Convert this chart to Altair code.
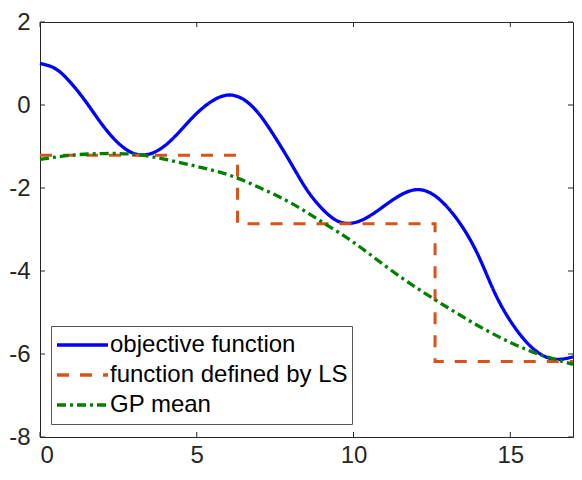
import altair as alt
import pandas as pd

# ---- data ----
series_names = ["objective function", "function defined by LS", "GP mean"]
series_colors = ["#0000FF", "#D95319", "#008000"]
series_dashes = [[1, 0], [12, 11], [9, 4, 3, 4]]

obj_x = [0, 0.5, 1.0, 1.5, 2.0, 2.5, 3.0, 3.5, 4.0, 4.5, 5.0, 5.5, 6.0,
         6.5, 7.0, 7.5, 8.0, 8.5, 9.0, 9.5, 10.0, 10.5, 11.0, 11.5, 12.0,
         12.5, 13.0, 13.5, 14.0, 14.5, 15.0, 15.5, 16.0, 16.5, 17.0]
obj_y = [1.0, 0.87, 0.52, 0.04, -0.49, -0.92, -1.17, -1.18, -0.97, -0.6, -0.2,
         0.1, 0.24, 0.13, -0.23, -0.78, -1.4, -2.03, -2.5, -2.8, -2.84,
         -2.68, -2.42, -2.17, -2.04, -2.14, -2.47, -2.97, -3.66, -4.52, -5.2,
         -5.7, -6.02, -6.13, -6.07]

ls_x = [0, 6.3, 6.3, 12.6, 12.6, 17]
ls_y = [-1.21, -1.21, -2.86, -2.86, -6.18, -6.18]

gp_x = [0, 1, 2, 3, 4, 5, 6, 7, 8, 9, 10, 11, 12, 13, 14, 15, 16, 17]
gp_y = [-1.31, -1.21, -1.17, -1.19, -1.31, -1.48, -1.68, -1.99, -2.36, -2.82, -3.31,
        -3.87, -4.40, -4.88, -5.33, -5.72, -6.03, -6.25]

x_ticks = [0, 5, 10, 15]
y_ticks = [-8, -6, -4, -2, 0, 2]

# ---- layout / style ----
W, H = 533, 415
AXIS_COL = "#262626"
FONT = "Liberation Sans"


def frame(xs, ys, name):
    return pd.DataFrame({"x": xs, "y": ys, "series": name, "i": list(range(len(xs)))})


xscale = alt.Scale(domain=[0, 17], nice=False, zero=False)
yscale = alt.Scale(domain=[-8, 2], nice=False, zero=False)
label_expr = "datum.value < 0 ? '-' + abs(datum.value) : '' + datum.value"
x_axis = alt.Axis(values=x_ticks, labelExpr=label_expr, labelPadding=6)
y_axis = alt.Axis(values=y_ticks, labelExpr=label_expr, labelPadding=10)

color_enc = alt.Color(
    "series:N",
    scale=alt.Scale(domain=series_names, range=series_colors),
    legend=alt.Legend(title=None),
)
dash_enc = alt.StrokeDash(
    "series:N",
    scale=alt.Scale(domain=series_names, range=series_dashes),
    legend=alt.Legend(title=None),
)


def line_layer(df, interp, width):
    return alt.Chart(df).mark_line(interpolate=interp, strokeWidth=width).encode(
        x=alt.X("x:Q", scale=xscale, title=None, axis=x_axis),
        y=alt.Y("y:Q", scale=yscale, title=None, axis=y_axis),
        color=color_enc,
        strokeDash=dash_enc,
        order=alt.Order("i:Q"),
    )


obj = line_layer(frame(obj_x, obj_y, series_names[0]), "natural", 3.3)
ls = line_layer(frame(ls_x, ls_y, series_names[1]), "linear", 3.0)
gp = line_layer(frame(gp_x, gp_y, series_names[2]), "natural", 3.3)

xt = pd.DataFrame({"x": x_ticks})
yt = pd.DataFrame({"y": y_ticks})
TL = 5
xenc = alt.X("x:Q", scale=xscale, title=None, axis=x_axis)
yenc = alt.Y("y:Q", scale=yscale, title=None, axis=y_axis)
tick_bottom = alt.Chart(xt).mark_rule(color=AXIS_COL, strokeWidth=1).encode(
    x=xenc, y=alt.value(H), y2=alt.value(H - TL))
tick_top = alt.Chart(xt).mark_rule(color=AXIS_COL, strokeWidth=1).encode(
    x=xenc, y=alt.value(0), y2=alt.value(TL))
tick_left = alt.Chart(yt).mark_rule(color=AXIS_COL, strokeWidth=1).encode(
    y=yenc, x=alt.value(0), x2=alt.value(TL))
tick_right = alt.Chart(yt).mark_rule(color=AXIS_COL, strokeWidth=1).encode(
    y=yenc, x=alt.value(W), x2=alt.value(W - TL))

chart = (
    alt.layer(obj, ls, gp, tick_bottom, tick_top, tick_left, tick_right)
    .properties(
        width=W,
        height=H,
        autosize=alt.AutoSizeParams(type="none"),
        padding={"left": 32, "top": 14, "right": 1, "bottom": 35},
    )
    .configure_view(stroke=AXIS_COL, strokeWidth=1)
    .configure_axis(
        labelFont=FONT,
        labelFontSize=24,
        labelColor=AXIS_COL,
        domain=False,
        ticks=False,
        grid=False,
    )
    .configure_legend(
        orient="none",
        legendX=11,
        legendY=304,
        fillColor="white",
        strokeColor="#555555",
        padding=4,
        symbolType="stroke",
        symbolSize=2601,
        symbolStrokeWidth=3.3,
        labelFont=FONT,
        labelFontSize=24,
        labelColor="black",
        labelLimit=400,
        labelOffset=0,
        clipHeight=30,
        rowPadding=0,
        cornerRadius=0,
    )
)

chart.save("out.html", embed_options={"renderer": "svg", "actions": False})
